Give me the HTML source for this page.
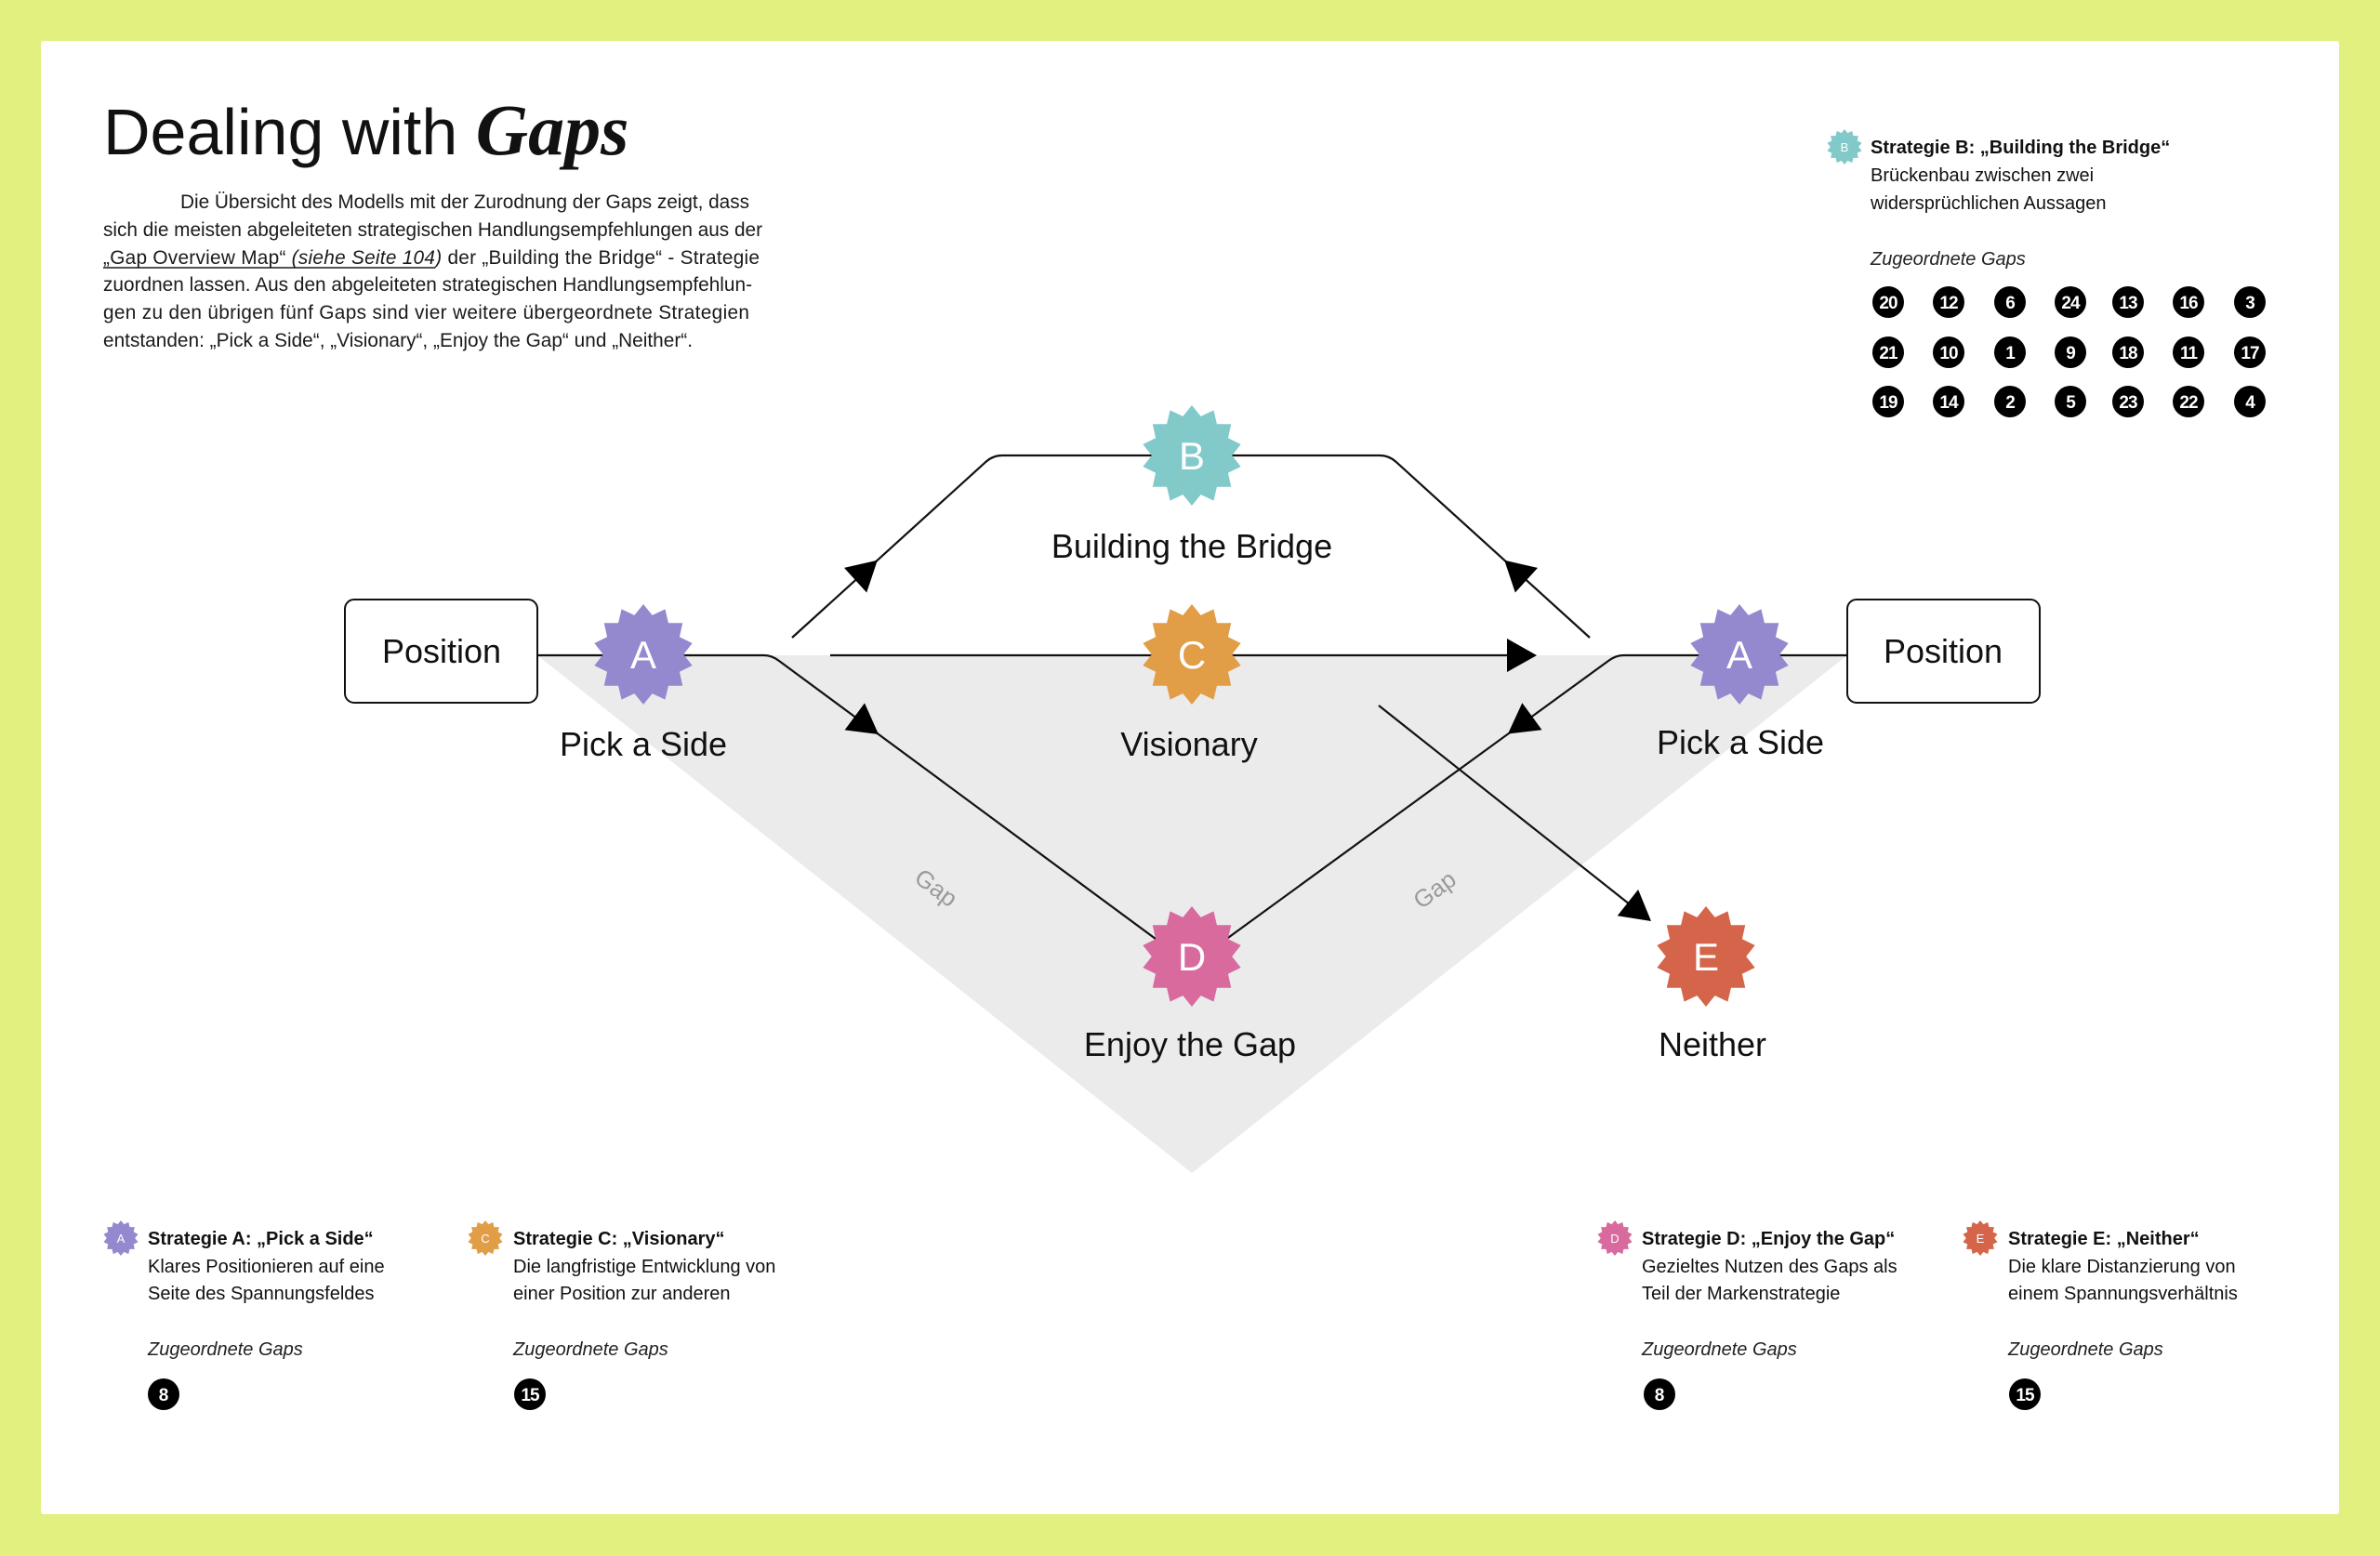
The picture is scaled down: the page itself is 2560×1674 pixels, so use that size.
<!DOCTYPE html>
<html>
<head>
<meta charset="utf-8">
<style>
  html,body{margin:0;padding:0;background:#e2f07f;}
  body{width:2560px;height:1674px;overflow:hidden;}
  svg{display:block;}
  .sans{font-family:"Liberation Sans",Arial,sans-serif;}
</style>
</head>
<body>
<svg width="2560" height="1674" viewBox="0 0 2560 1674" xmlns="http://www.w3.org/2000/svg" class="sans">
  <defs>
    <polygon id="star" points="0,-100 17.8,-78 43.4,-90.1 49.9,-62.5 78.2,-62.4 72.1,-34.7 97.5,-22.3 80,0 97.5,22.3 72.1,34.7 78.2,62.4 49.9,62.5 43.4,90.1 17.8,78 0,100 -17.8,78 -43.4,90.1 -49.9,62.5 -78.2,62.4 -72.1,34.7 -97.5,22.3 -80,0 -97.5,-22.3 -72.1,-34.7 -78.2,-62.4 -49.9,-62.5 -43.4,-90.1 -17.8,-78"/>
  </defs>

  <!-- background + card -->
  <rect x="0" y="0" width="2560" height="1674" fill="#e2f07f"/>
  <rect x="44" y="44" width="2472" height="1585" rx="3" fill="#ffffff"/>

  <!-- Title -->
  <text x="111" y="166" font-size="70" fill="#111" font-family="Liberation Sans, Arial, sans-serif">Dealing with <tspan font-family="Liberation Serif, Times New Roman, serif" font-style="italic" font-weight="bold" font-size="78">Gaps</tspan></text>

  <!-- Paragraph -->
  <g font-size="20.8" fill="#1a1a1a">
    <text x="194" y="224" textLength="612">Die Übersicht des Modells mit der Zurodnung der Gaps zeigt, dass</text>
    <text x="111" y="254" textLength="709">sich die meisten abgeleiteten strategischen Handlungsempfehlungen aus der</text>
    <text x="111" y="284" textLength="706">„Gap Overview Map“ <tspan font-style="italic">(siehe Seite 104)</tspan> der „Building the Bridge“ - Strategie</text>
    <text x="111" y="313" textLength="698">zuordnen lassen. Aus den abgeleiteten strategischen Handlungsempfehlun-</text>
    <text x="111" y="343" textLength="695">gen zu den übrigen fünf Gaps sind vier weitere übergeordnete Strategien</text>
    <text x="111" y="373" textLength="634">entstanden: „Pick a Side“, „Visionary“, „Enjoy the Gap“ und „Neither“.</text>
  </g>
  <line x1="111" y1="288" x2="468" y2="288" stroke="#1a1a1a" stroke-width="1.5"/>

  <!-- Gray gap triangle -->
  <polygon points="578,705 1987,705 1282,1262" fill="#ebebeb"/>

  <!-- Gap labels -->
  <text x="1007" y="955" font-size="26" fill="#9a9a9a" text-anchor="middle" dominant-baseline="central" transform="rotate(36.5 1007 955)">Gap</text>
  <text x="1543" y="957" font-size="26" fill="#9a9a9a" text-anchor="middle" dominant-baseline="central" transform="rotate(-36.5 1543 957)">Gap</text>

  <!-- Connectors -->
  <g fill="none" stroke="#111" stroke-width="2.2" stroke-linejoin="round">
    <path d="M578 705 H822 Q830 705 838 711 L1270 1030"/>
    <path d="M1987 705 H1746 Q1738 705 1730 711 L1292 1030"/>
    <path d="M852 686 L1060.6 496.7 Q1068 490 1078 490 H1484 Q1494 490 1501.4 496.7 L1710 686"/>
    <path d="M893 705 H1624"/>
    <path d="M1483 759 L1753 973"/>
  </g>

  <!-- Arrowheads -->
  <g fill="#000">
    <polygon points="943.8,602.7 932.2,637.5 908.0,610.9"/>
    <polygon points="1618.2,602.7 1629.8,637.5 1654.0,610.9"/>
    <polygon points="945.0,790.0 908.6,785.4 930.0,756.4"/>
    <polygon points="1622,789.5 1658.5,785.2 1637.3,756.2"/>
    <polygon points="1653,705 1621,687 1621,723"/>
    <polygon points="1776,991 1739.7,985.2 1762.1,957.0"/>
  </g>

  <!-- Position boxes -->
  <rect x="371" y="645" width="207" height="111" rx="10" fill="#fff" stroke="#111" stroke-width="2"/>
  <rect x="1987" y="645" width="207" height="111" rx="10" fill="#fff" stroke="#111" stroke-width="2"/>
  <text x="475" y="713" font-size="36" fill="#111" text-anchor="middle">Position</text>
  <text x="2090" y="713" font-size="36" fill="#111" text-anchor="middle">Position</text>

  <!-- Nodes -->
  <use href="#star" transform="translate(692,704) scale(0.54)" fill="#9488cf"/>
  <use href="#star" transform="translate(1282,490) scale(0.54)" fill="#82c9c9"/>
  <use href="#star" transform="translate(1282,704) scale(0.54)" fill="#e29d47"/>
  <use href="#star" transform="translate(1282,1029) scale(0.54)" fill="#d86a9e"/>
  <use href="#star" transform="translate(1835,1029) scale(0.54)" fill="#d4654a"/>
  <use href="#star" transform="translate(1871,704) scale(0.54)" fill="#9488cf"/>

  <g font-size="42" fill="#fff" text-anchor="middle">
    <text x="692" y="719">A</text>
    <text x="1282" y="505">B</text>
    <text x="1282" y="719">C</text>
    <text x="1282" y="1044">D</text>
    <text x="1835" y="1044">E</text>
    <text x="1871" y="719">A</text>
  </g>

  <!-- Node labels -->
  <g font-size="36" fill="#111" text-anchor="middle">
    <text x="692" y="813">Pick a Side</text>
    <text x="1282" y="600">Building the Bridge</text>
    <text x="1279" y="813">Visionary</text>
    <text x="1280" y="1136">Enjoy the Gap</text>
    <text x="1842" y="1136">Neither</text>
    <text x="1872" y="811">Pick a Side</text>
  </g>

  <!-- Legend B (top right) -->
  <use href="#star" transform="translate(1984,158) scale(0.19)" fill="#82c9c9"/>
  <text x="1984" y="163" font-size="13" fill="#fff" text-anchor="middle">B</text>
  <text x="2012" y="165" font-size="20" font-weight="bold" fill="#111">Strategie B: „Building the Bridge“</text>
  <text x="2012" y="195" font-size="20" fill="#111">Brückenbau zwischen zwei</text>
  <text x="2012" y="225" font-size="20" fill="#111">widersprüchlichen Aussagen</text>
  <text x="2012" y="285" font-size="20" font-style="italic" fill="#222">Zugeordnete Gaps</text>

  <g fill="#000">
    <circle cx="2031" cy="325" r="17"/><circle cx="2096" cy="325" r="17"/><circle cx="2162" cy="325" r="17"/><circle cx="2227" cy="325" r="17"/><circle cx="2289" cy="325" r="17"/><circle cx="2354" cy="325" r="17"/><circle cx="2420" cy="325" r="17"/>
    <circle cx="2031" cy="379" r="17"/><circle cx="2096" cy="379" r="17"/><circle cx="2162" cy="379" r="17"/><circle cx="2227" cy="379" r="17"/><circle cx="2289" cy="379" r="17"/><circle cx="2354" cy="379" r="17"/><circle cx="2420" cy="379" r="17"/>
    <circle cx="2031" cy="432" r="17"/><circle cx="2096" cy="432" r="17"/><circle cx="2162" cy="432" r="17"/><circle cx="2227" cy="432" r="17"/><circle cx="2289" cy="432" r="17"/><circle cx="2354" cy="432" r="17"/><circle cx="2420" cy="432" r="17"/>
  </g>
  <g font-size="19" font-weight="bold" fill="#fff" text-anchor="middle" letter-spacing="-1">
    <text x="2031" y="332">20</text><text x="2096" y="332">12</text><text x="2162" y="332">6</text><text x="2227" y="332">24</text><text x="2289" y="332">13</text><text x="2354" y="332">16</text><text x="2420" y="332">3</text>
    <text x="2031" y="386">21</text><text x="2096" y="386">10</text><text x="2162" y="386">1</text><text x="2227" y="386">9</text><text x="2289" y="386">18</text><text x="2354" y="386">11</text><text x="2420" y="386">17</text>
    <text x="2031" y="439">19</text><text x="2096" y="439">14</text><text x="2162" y="439">2</text><text x="2227" y="439">5</text><text x="2289" y="439">23</text><text x="2354" y="439">22</text><text x="2420" y="439">4</text>
  </g>

  <!-- Legend A -->
  <use href="#star" transform="translate(130,1332) scale(0.19)" fill="#9488cf"/>
  <text x="130" y="1337" font-size="13" fill="#fff" text-anchor="middle">A</text>
  <text x="159" y="1339" font-size="20" font-weight="bold" fill="#111">Strategie A: „Pick a Side“</text>
  <text x="159" y="1369" font-size="20" fill="#111">Klares Positionieren auf eine</text>
  <text x="159" y="1398" font-size="20" fill="#111">Seite des Spannungsfeldes</text>
  <text x="159" y="1458" font-size="20" font-style="italic" fill="#222">Zugeordnete Gaps</text>
  <circle cx="176" cy="1500" r="17" fill="#000"/>
  <text x="176" y="1507" font-size="19" font-weight="bold" fill="#fff" text-anchor="middle">8</text>

  <!-- Legend C -->
  <use href="#star" transform="translate(522,1332) scale(0.19)" fill="#e29d47"/>
  <text x="522" y="1337" font-size="13" fill="#fff" text-anchor="middle">C</text>
  <text x="552" y="1339" font-size="20" font-weight="bold" fill="#111">Strategie C: „Visionary“</text>
  <text x="552" y="1369" font-size="20" fill="#111">Die langfristige Entwicklung von</text>
  <text x="552" y="1398" font-size="20" fill="#111">einer Position zur anderen</text>
  <text x="552" y="1458" font-size="20" font-style="italic" fill="#222">Zugeordnete Gaps</text>
  <circle cx="570" cy="1500" r="17" fill="#000"/>
  <text x="570" y="1507" font-size="19" font-weight="bold" fill="#fff" text-anchor="middle" letter-spacing="-1">15</text>

  <!-- Legend D -->
  <use href="#star" transform="translate(1737,1332) scale(0.19)" fill="#d86a9e"/>
  <text x="1737" y="1337" font-size="13" fill="#fff" text-anchor="middle">D</text>
  <text x="1766" y="1339" font-size="20" font-weight="bold" fill="#111">Strategie D: „Enjoy the Gap“</text>
  <text x="1766" y="1369" font-size="20" fill="#111">Gezieltes Nutzen des Gaps als</text>
  <text x="1766" y="1398" font-size="20" fill="#111">Teil der Markenstrategie</text>
  <text x="1766" y="1458" font-size="20" font-style="italic" fill="#222">Zugeordnete Gaps</text>
  <circle cx="1785" cy="1500" r="17" fill="#000"/>
  <text x="1785" y="1507" font-size="19" font-weight="bold" fill="#fff" text-anchor="middle">8</text>

  <!-- Legend E -->
  <use href="#star" transform="translate(2130,1332) scale(0.19)" fill="#d4654a"/>
  <text x="2130" y="1337" font-size="13" fill="#fff" text-anchor="middle">E</text>
  <text x="2160" y="1339" font-size="20" font-weight="bold" fill="#111">Strategie E: „Neither“</text>
  <text x="2160" y="1369" font-size="20" fill="#111">Die klare Distanzierung von</text>
  <text x="2160" y="1398" font-size="20" fill="#111">einem Spannungsverhältnis</text>
  <text x="2160" y="1458" font-size="20" font-style="italic" fill="#222">Zugeordnete Gaps</text>
  <circle cx="2178" cy="1500" r="17" fill="#000"/>
  <text x="2178" y="1507" font-size="19" font-weight="bold" fill="#fff" text-anchor="middle" letter-spacing="-1">15</text>
</svg>
</body>
</html>
